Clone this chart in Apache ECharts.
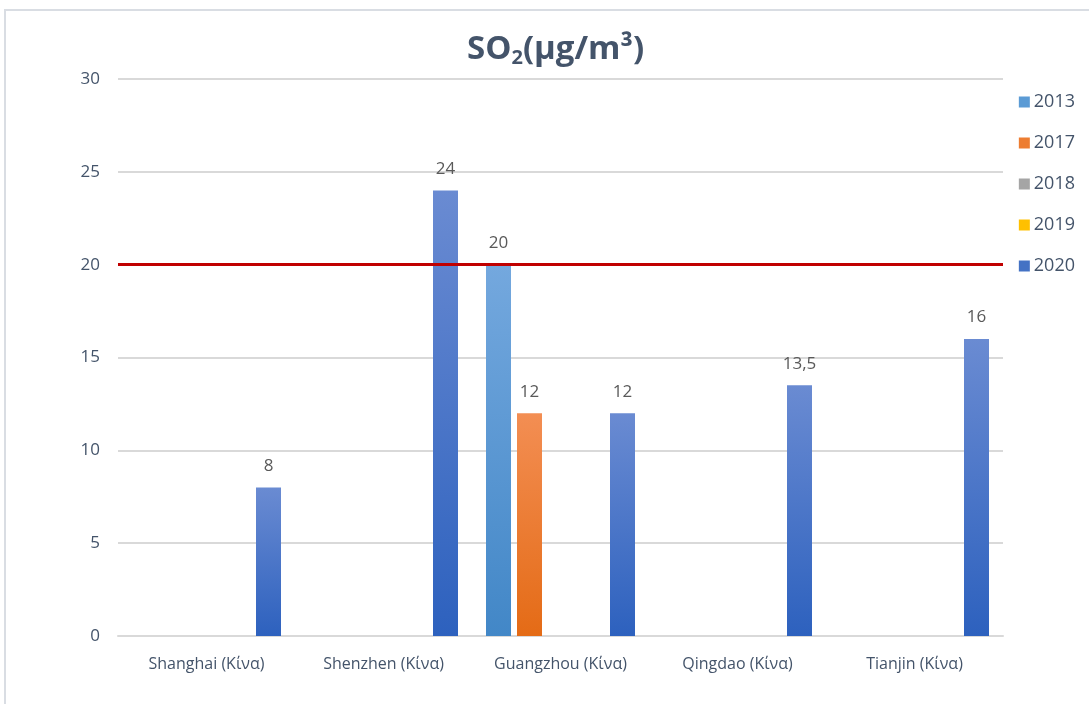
<!DOCTYPE html>
<html><head><meta charset="utf-8">
<script src="https://cdn.jsdelivr.net/npm/echarts@6/dist/echarts.min.js"></script>
<style>html,body{margin:0;padding:0;background:#fff}#c{width:1089px;height:704px}</style>
</head><body><div id="c"></div>
<script>
const categories = ['Shanghai (Κίνα)', 'Shenzhen (Κίνα)', 'Guangzhou (Κίνα)', 'Qingdao (Κίνα)', 'Tianjin (Κίνα)'];
const years = ['2013', '2017', '2018', '2019', '2020'];
const v2013 = [null, null, 20, null, null];
const v2017 = [null, null, 12, null, null];
const v2018 = [null, null, null, null, null];
const v2019 = [null, null, null, null, null];
const v2020 = [8, 24, 12, 13.5, 16];
const limitValue = 20;

const values = [v2013, v2017, v2018, v2019, v2020];
const colors = [
  ['#74a8de', '#4287c7'],
  ['#f38e53', '#e46b16'],
  ['#b0b0b0', '#8c8c8c'],
  ['#ffd030', '#f5b800'],
  ['#6a8bd2', '#2d61be']
];
const legendColors = ['#5b9bd5', '#ed7d31', '#a5a5a5', '#ffc000', '#4472c4'];
const txt = '#44546a';

const series = years.map((y, i) => ({
  name: y,
  type: 'bar',
  data: values[i],
  barWidth: 25,
  barGap: '24%',
  itemStyle: {
    color: new echarts.graphic.LinearGradient(0, 0, 0, 1, [
      {offset: 0, color: colors[i][0]}, {offset: 1, color: colors[i][1]}
    ])
  },
  label: {
    show: true, position: 'top', distance: 13, color: '#595959', fontSize: 17,
    fontFamily: 'Open Sans',
    formatter: p => p.value == null ? '' : String(p.value).replace('.', ',')
  },
  markLine: i === 4 ? {
    silent: true, symbol: 'none', label: {show: false},
    lineStyle: {color: '#c00000', width: 3, type: 'solid'},
    data: [{yAxis: limitValue}]
  } : undefined
}));

const chart = echarts.init(document.getElementById('c'));
chart.setOption({
  animation: false,
  backgroundColor: '#fff',
  graphic: [{
    type: 'rect', shape: {x: 5, y: 10, width: 1200, height: 800},
    style: {fill: 'none', stroke: '#d9dde3', lineWidth: 2}, z: -1
  }],
  title: {
    text: '{a|SO}{s|2}{a|(μg/m³)}',
    left: 462, top: 27,
    textStyle: {
      rich: {
        a: {fontSize: 33, fontWeight: 'bold', color: txt, fontFamily: 'Open Sans'},
        s: {fontSize: 20, fontWeight: 'bold', color: txt, fontFamily: 'Open Sans', padding: [16, 0, 0, 0]}
      }
    }
  },
  legend: {
    orient: 'vertical', right: 9, top: 88, itemGap: 23,
    itemWidth: 11, itemHeight: 11, icon: 'rect',
    data: years.map((y, i) => ({name: y, itemStyle: {color: legendColors[i]}})),
    textStyle: {color: txt, fontSize: 18, fontFamily: 'Open Sans', padding: [0, 0, 0, -1]}
  },
  grid: {left: 118, right: 86, top: 79, bottom: 68},
  xAxis: {
    type: 'category', data: categories,
    axisLine: {lineStyle: {color: '#d9d9d9', width: 2}},
    axisTick: {show: false},
    axisLabel: {color: txt, fontSize: 16, fontFamily: 'Open Sans', margin: 20}
  },
  yAxis: {
    type: 'value', min: 0, max: 30, interval: 5,
    axisLine: {show: false}, axisTick: {show: false},
    splitLine: {lineStyle: {color: '#d9d9d9', width: 2}},
    axisLabel: {color: txt, fontSize: 17, fontFamily: 'Open Sans', margin: 18}
  },
  series
});
</script></body></html>
